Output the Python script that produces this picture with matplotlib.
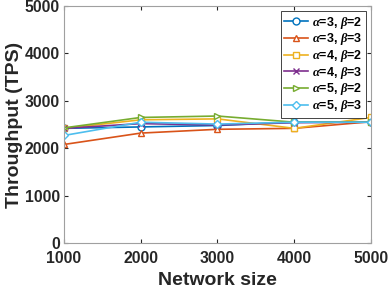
import matplotlib
matplotlib.use('Agg')
import matplotlib.pyplot as plt

plt.rcParams['font.family'] = ['Liberation Sans', 'DejaVu Sans']
plt.rcParams['font.weight'] = 'bold'
plt.rcParams['mathtext.fontset'] = 'custom'
plt.rcParams['mathtext.it'] = 'Liberation Serif:italic:bold'
plt.rcParams['mathtext.rm'] = 'Liberation Sans:bold'

network_size = [1000, 2000, 3000, 4000, 5000]
a3_b2 = [2420, 2450, 2480, 2550, 2550]
a3_b3 = [2080, 2320, 2400, 2420, 2560]
a4_b2 = [2420, 2600, 2620, 2420, 2650]
a4_b3 = [2420, 2520, 2490, 2540, 2550]
a5_b2 = [2430, 2650, 2680, 2550, 2550]
a5_b3 = [2270, 2550, 2510, 2550, 2550]

series = [
    (a3_b2, r'$\alpha$=3, $\beta$=2', 'o', (0, 0.447, 0.741)),
    (a3_b3, r'$\alpha$=3, $\beta$=3', '^', (0.85, 0.325, 0.098)),
    (a4_b2, r'$\alpha$=4, $\beta$=2', 's', (0.929, 0.694, 0.125)),
    (a4_b3, r'$\alpha$=4, $\beta$=3', 'x', (0.494, 0.184, 0.556)),
    (a5_b2, r'$\alpha$=5, $\beta$=2', '>', (0.466, 0.674, 0.188)),
    (a5_b3, r'$\alpha$=5, $\beta$=3', 'D', (0.301, 0.745, 0.933)),
]

fig = plt.figure(figsize=(3.88, 2.89), dpi=100)
ax = fig.add_axes([0.165, 0.159, 0.791, 0.820])

for values, label, marker, color in series:
    ms = 4 if marker in ('D', 'x', 's') else 5
    ax.plot(network_size, values, marker=marker, color=color, label=label,
            markerfacecolor='white', markersize=ms, linewidth=1.2,
            markeredgewidth=1.0)

ax.set_xlim(1000, 5000)
ax.set_ylim(0, 5000)
ax.set_xticks(network_size)
ax.set_yticks([0, 1000, 2000, 3000, 4000, 5000])
ax.tick_params(direction='in', length=3, labelsize=11.3, colors='#262626',
               top=True, right=True, pad=3)
ax.tick_params(axis='x', pad=6)
for s in ax.spines.values():
    s.set_color('#a0a0a0')
ax.set_xlabel('Network size', fontsize=14, fontweight='bold', color='#262626', labelpad=4)
ax.set_ylabel('Throughput (TPS)', fontsize=14, fontweight='bold', color='#262626', labelpad=1)

leg = ax.legend(loc='upper right', fontsize=9, handlelength=1.9, handletextpad=0.3,
                labelspacing=0.05, borderpad=0.3, borderaxespad=0.4,
                fancybox=False, framealpha=1)
leg.get_frame().set_edgecolor('#262626')
leg.get_frame().set_linewidth(0.6)

plt.savefig('out.png', dpi=100)
